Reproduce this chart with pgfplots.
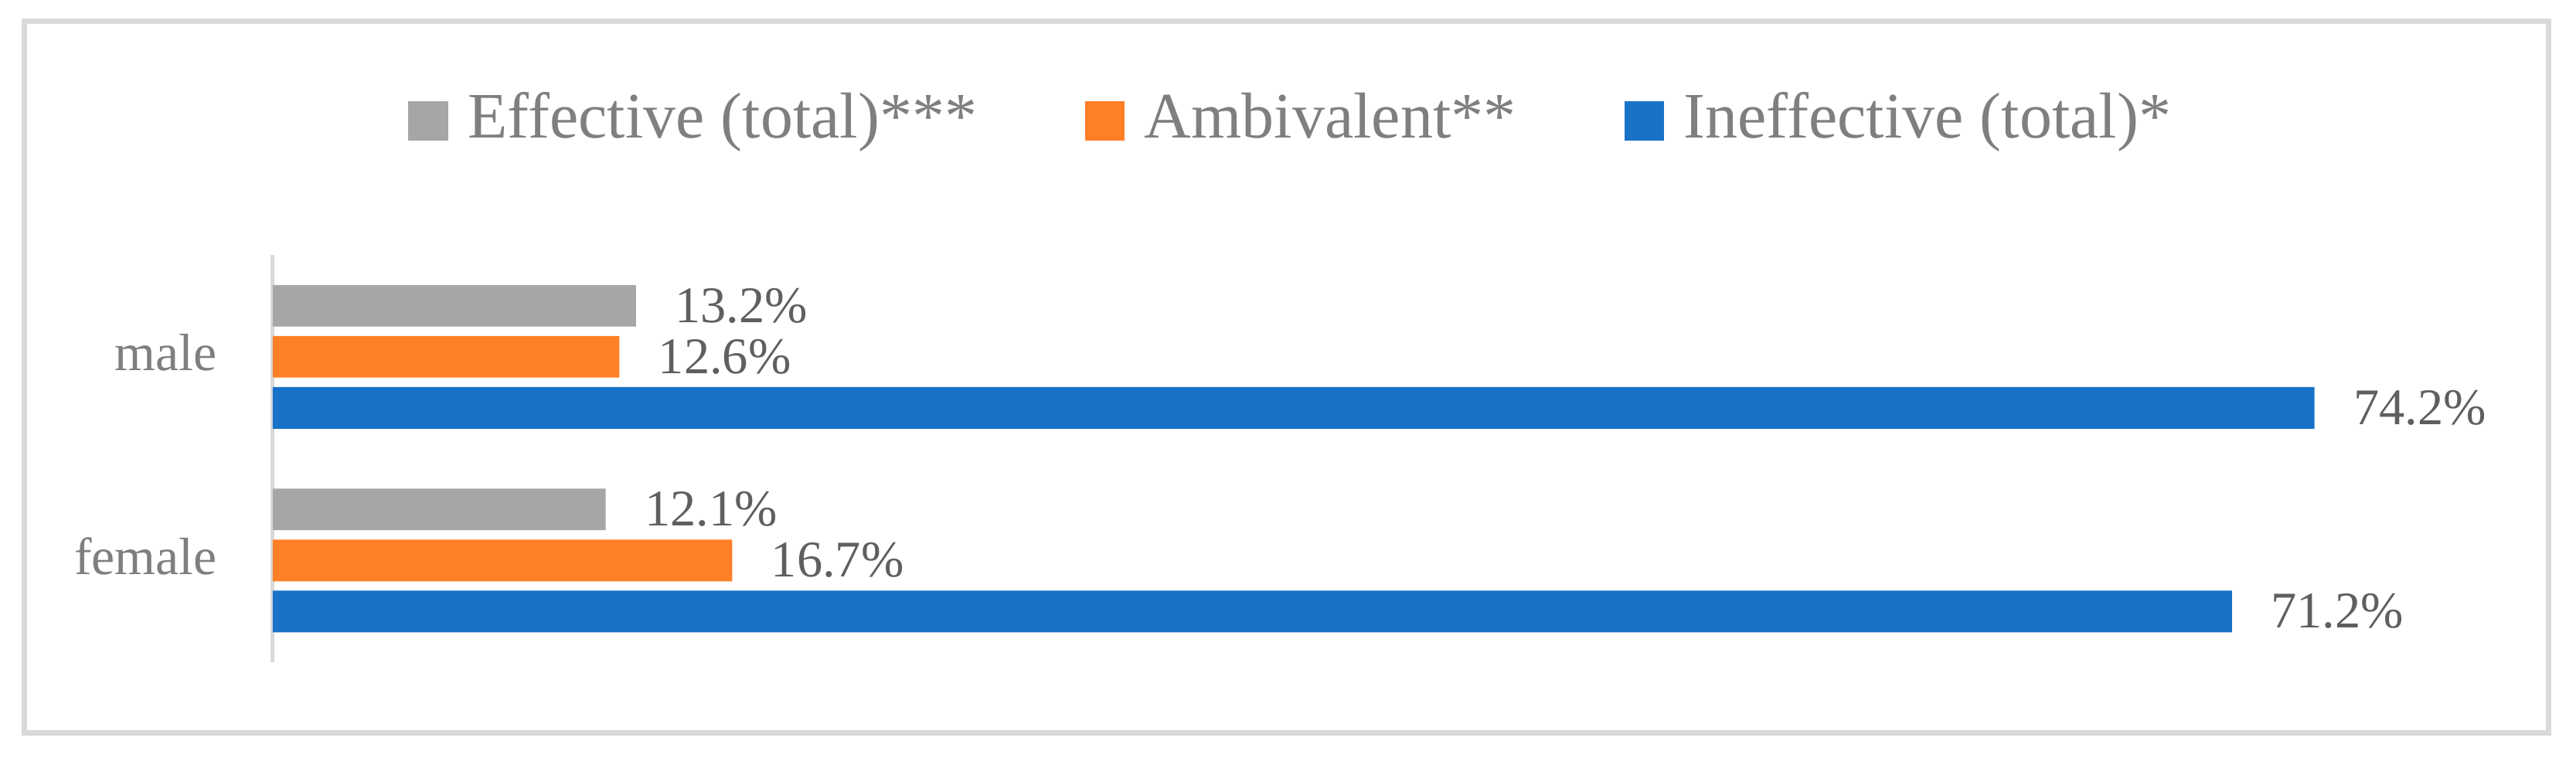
\documentclass[border=0pt]{standalone}
\usepackage{fontspec}
\setmainfont{Liberation Serif}
\usepackage{pgfplots}
\pgfplotsset{compat=1.18}

\definecolor{cgray}{HTML}{A6A6A6}
\definecolor{corange}{HTML}{FF7F27}
\definecolor{cblue}{HTML}{1873C8}
\definecolor{frame}{HTML}{D9D9D9}
\definecolor{labtxt}{HTML}{5F5F5F}
\definecolor{legtxt}{HTML}{7F7F7F}

% values in percent, y=1 male, y=0 female
\pgfplotstableread{
y  eff  amb  ineff
1  13.2 12.6 74.2
0  12.1 16.7 71.2
}\gender

\begin{document}
\begin{tikzpicture}
% page 3333x980 px at 7 px per pt
\path (0pt,0pt) rectangle (476.14pt,140pt);
\draw[frame, line width=1pt] (4.5pt,4.5pt) rectangle (471.1pt,136.07pt);
\begin{axis}[
  at={(50.4pt,17.57pt)}, anchor=south west,
  scale only axis, width=406.9pt, height=75.29pt,
  xbar, bar width=7.71pt,
  xmin=0, xmax=80, ymin=-0.5, ymax=1.5,
  axis x line=none, axis y line*=left,
  axis line style={frame, line width=0.7pt},
  xtick=\empty, ytick={0,1}, yticklabels={female,male},
  ytick style={draw=none},
  yticklabel style={font=\fontsize{9.7}{11}\selectfont, text=legtxt, inner sep=0pt, anchor=base east, xshift=-5.8pt, yshift=-2.6pt},
  clip=false,
  nodes near coords={\pgfmathprintnumber[fixed,precision=1,fixed zerofill,assume math mode=true]{\pgfplotspointmeta}\%},
  nodes near coords style={font=\fontsize{9.5}{11}\selectfont, text=labtxt, inner sep=0pt, anchor=west, xshift=7pt},
  legend columns=3,
  legend style={at={(0.462,1.333)}, anchor=center, draw=none, fill=none, inner sep=0pt,
    nodes={inner sep=0pt, font=\fontsize{12}{14}\selectfont, text=legtxt},
    /tikz/every odd column/.append style={column sep=3.7pt},
    /tikz/every even column/.append style={column sep=20pt}},
  legend image code/.code={\fill[#1] (0pt,-3.9pt) rectangle (7.3pt,3.4pt);},
]
\addplot[fill=cgray, draw=none, bar shift=9.43pt] table[x=eff, y=y] {\gender};
\addplot[fill=corange, draw=none, bar shift=0pt] table[x=amb, y=y] {\gender};
\addplot[fill=cblue, draw=none, bar shift=-9.43pt] table[x=ineff, y=y] {\gender};
\legend{Effective (total)***, Ambivalent**, Ineffective (total)*}
\end{axis}
\end{tikzpicture}
\end{document}
